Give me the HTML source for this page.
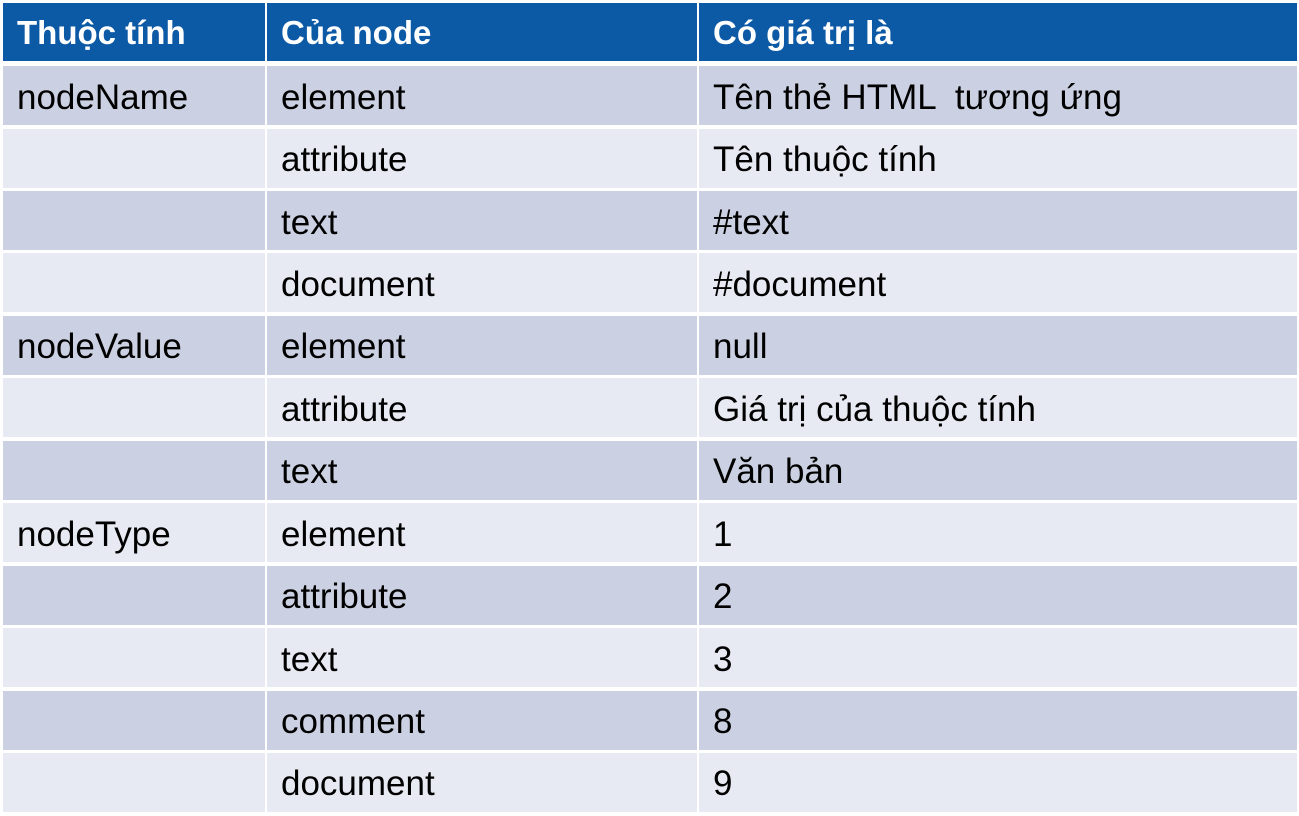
<!DOCTYPE html>
<html><head><meta charset="utf-8"><style>
body{margin:0;width:1299px;height:816px;background:#fff;position:relative;overflow:hidden;font-family:"Liberation Sans",sans-serif;}
.r{position:absolute;left:0;width:1299px;height:59px;}
.c{position:absolute;top:0;height:100%;box-sizing:border-box;padding-left:14px;padding-top:4px;font-size:35px;color:#000;display:flex;align-items:center;white-space:pre;}
.a{left:3px;width:262px}.b{left:267px;width:430px}.e{left:699px;width:598px}
.h .c{background:#0c59a5;color:#fff;font-weight:bold;font-size:33px;padding-top:2px;}
.d .c{background:#cbd1e2;}
.l .c{background:#e7eaf2;}
</style></head><body>
<div class="r h" style="top:3px;height:58px"><div class="c a">Thuộc tính</div><div class="c b">Của node</div><div class="c e">Có giá trị là</div></div>
<div class="r d" style="top:66px"><div class="c a">nodeName</div><div class="c b">element</div><div class="c e">Tên thẻ HTML  tương ứng</div></div>
<div class="r l" style="top:128.5px"><div class="c a"></div><div class="c b">attribute</div><div class="c e">Tên thuộc tính</div></div>
<div class="r d" style="top:191px"><div class="c a"></div><div class="c b">text</div><div class="c e">#text</div></div>
<div class="r l" style="top:253.3px"><div class="c a"></div><div class="c b">document</div><div class="c e">#document</div></div>
<div class="r d" style="top:315.8px"><div class="c a">nodeValue</div><div class="c b">element</div><div class="c e">null</div></div>
<div class="r l" style="top:378.2px"><div class="c a"></div><div class="c b">attribute</div><div class="c e">Giá trị của thuộc tính</div></div>
<div class="r d" style="top:440.7px"><div class="c a"></div><div class="c b">text</div><div class="c e">Văn bản</div></div>
<div class="r l" style="top:503.1px"><div class="c a">nodeType</div><div class="c b">element</div><div class="c e">1</div></div>
<div class="r d" style="top:565.6px"><div class="c a"></div><div class="c b">attribute</div><div class="c e">2</div></div>
<div class="r l" style="top:628px"><div class="c a"></div><div class="c b">text</div><div class="c e">3</div></div>
<div class="r d" style="top:690.5px"><div class="c a"></div><div class="c b">comment</div><div class="c e">8</div></div>
<div class="r l" style="top:752.9px"><div class="c a"></div><div class="c b">document</div><div class="c e">9</div></div>
</body></html>
